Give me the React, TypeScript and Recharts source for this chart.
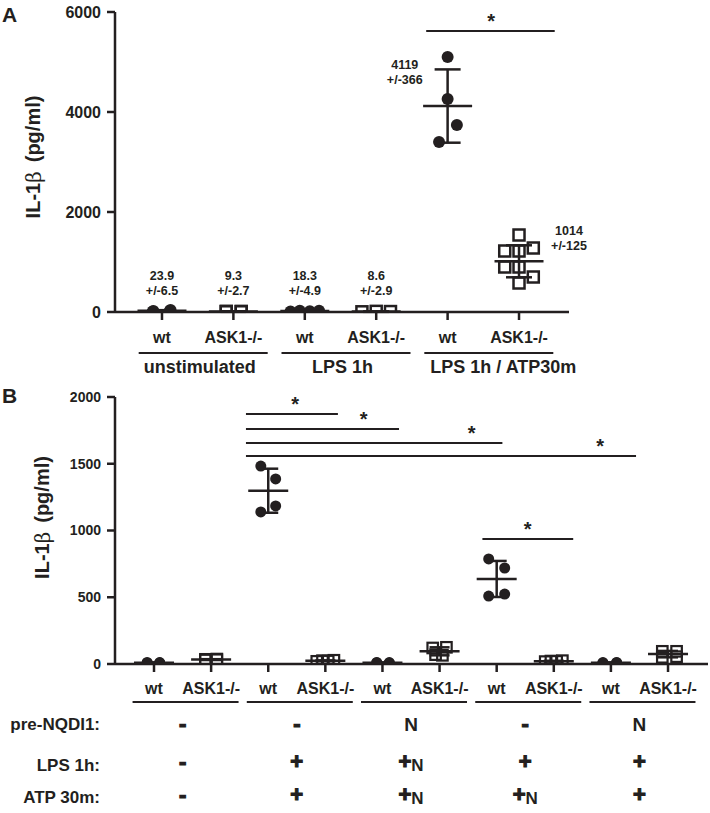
import React from 'react';
import { ScatterChart, Scatter, XAxis, YAxis, ErrorBar, ReferenceLine, ReferenceDot } from 'recharts';

const INK = '#231f20';
const FONT = '"Liberation Sans", Arial, Helvetica, sans-serif';

// ---- Panel A ----
const A_TICKS = ['wt', 'ASK1-/-', 'wt', 'ASK1-/-', 'wt', 'ASK1-/-'];
const A_GROUPS = ['unstimulated', 'LPS 1h', 'LPS 1h / ATP30m'];
const A_GROUP_AT = [0.5, 2.5, 4.5];
const A_Y_TICKS = [0, 2000, 4000, 6000];
const A_VALUES = [
  [12, 20, 26, 38],
  [5, 14, 7, 11],
  [10, 25, 14, 24],
  [4, 13, 9],
  [5100, 4260, 3740, 3400],
  [1540, 1220, 1220, 1280, 900, 900, 700, 580],
];
// horizontal scatter of the points inside each column (category units)
const A_SPREAD = [
  [-0.13, -0.12, 0.11, 0.12],
  [-0.1, -0.1, 0.11, 0.11],
  [-0.2, -0.07, 0.07, 0.2],
  [-0.2, 0, 0.2],
  [0, 0, 0.13, -0.12],
  [0, -0.2, 0, 0.2, -0.2, 0, 0.2, 0],
];
const A_MEAN = [23.9, 9.3, 18.3, 8.6, 4119, 1014];
const A_SD = [13, 5.4, 9.8, 5, 733, 320];
const A_NOTE_MEAN = ['23.9', '9.3', '18.3', '8.6', '4119', '1014'];
const A_NOTE_ERR = ['+/-6.5', '+/-2.7', '+/-4.9', '+/-2.9', '+/-366', '+/-125'];
const A_NOTE_X = [0, 1, 2, 3, 3.4, 5.7];
const A_NOTE_Y = [640, 640, 640, 640, 4860, 1540];
const A_SIG = [{ x1: 3.7, x2: 5.5, y: 5620, star: 4.61 }];

// ---- Panel B ----
const B_TICKS = ['wt', 'ASK1-/-', 'wt', 'ASK1-/-', 'wt', 'ASK1-/-', 'wt', 'ASK1-/-', 'wt', 'ASK1-/-'];
const B_GROUP_AT = [0.5, 2.5, 4.5, 6.5, 8.5];
const B_Y_TICKS = [0, 500, 1000, 1500, 2000];
const B_VALUES = [
  [8, 12, 9, 11],
  [30, 35, 32, 37],
  [1483, 1386, 1184, 1139],
  [20, 25, 22, 28],
  [9, 12, 8, 11],
  [120, 125, 70, 65],
  [787, 719, 509, 524],
  [18, 22, 20, 25],
  [8, 11, 9, 12],
  [95, 95, 50, 55],
];
const B_SPREAD = [
  [-0.12, -0.12, 0.1, 0.1],
  [-0.1, -0.1, 0.1, 0.1],
  [-0.13, 0.13, 0.13, -0.13],
  [-0.15, -0.05, 0.05, 0.15],
  [-0.1, -0.1, 0.12, 0.12],
  [-0.12, 0.12, -0.07, 0.05],
  [-0.14, 0.14, -0.14, 0.14],
  [-0.15, -0.05, 0.05, 0.15],
  [-0.14, -0.14, 0.1, 0.1],
  [-0.1, 0.15, -0.1, 0.15],
];
const B_MEAN = [10, 33, 1298, 24, 10, 95, 637, 21, 10, 74];
const B_SD = [2, 3, 165, 3, 2, 30, 135, 3, 2, 24];
const B_SIG = [
  { x1: 1.61, x2: 3.22, y: 1873, star: 2.47 },
  { x1: 1.61, x2: 4.29, y: 1760, star: 3.67 },
  { x1: 1.61, x2: 6.1, y: 1655, star: 5.56 },
  { x1: 1.61, x2: 8.44, y: 1558, star: 7.81 },
  { x1: 5.75, x2: 7.34, y: 936, star: 6.54 },
];
const ROW_LABELS = ['pre-NQDI1:', 'LPS 1h:', 'ATP 30m:'];
const ROW_PRE = ['-', '-', 'N', '-', 'N'];
const ROW_LPS = ['-', '+', '+N', '+', '+'];
const ROW_ATP = ['-', '+', '+N', '+N', '+'];

const points = (values: number[][], spread: number[][], wt: boolean) =>
  values.flatMap((vals, g) =>
    (g % 2 === 0) === wt ? vals.map((v, i) => ({ x: g + spread[g][i], y: v })) : []
  );
const means = (mean: number[], sd: number[]) => mean.map((m, g) => ({ x: g, y: m, sd: sd[g] }));
const anchors = (at: number[]) => at.map((x) => ({ x, y: 0 }));

const dot = (r: number) => (p: any) => <circle cx={p.cx} cy={p.cy} r={r} fill={INK} />;
const box = (s: number, w: number) => (p: any) => (
  <rect x={p.cx - s / 2} y={p.cy - s / 2} width={s} height={s} fill="none" stroke={INK} strokeWidth={w} />
);
const meanLine = (half: number, w: number) => (p: any) => (
  <line x1={p.cx - half} x2={p.cx + half} y1={p.cy} y2={p.cy} stroke={INK} strokeWidth={w} />
);
const nothing = () => <g />;
const star = (p: any) => (
  <text x={p.cx} y={p.cy - 3} textAnchor="middle" fontSize={20} fontWeight="bold" fill={INK}>*</text>
);

const AxisTitle = ({ viewBox, letter, dx, dy, letterDy }: any) => {
  const { x, y, height } = viewBox;
  const cx = x + dx;
  const cy = y + height / 2 + dy;
  return (
    <g>
      <text x={x + 2} y={y + letterDy} fontSize={21} fontWeight="bold" fill={INK}>{letter}</text>
      <text x={cx} y={cy} transform={`rotate(-90 ${cx} ${cy})`} textAnchor="middle" dominantBaseline="middle"
        fontSize={20} fontWeight="bold" fill={INK}>
        IL-1<tspan fontFamily='"DejaVu Serif", serif' fontWeight="normal">β</tspan>
        <tspan dx={9}>(pg/ml)</tspan>
      </text>
    </g>
  );
};

const GroupTickA = (props: any) => {
  const { x, y, index } = props;
  const label = A_GROUPS[index];
  const long = label.length > 13;
  return (
    <g>
      <line x1={x - 59} x2={x + 70} y1={y + 11} y2={y + 11} stroke={INK} strokeWidth={1.8} />
      <text x={long ? x - 53 : x + 2} y={y + 31} textAnchor={long ? 'start' : 'middle'}
        fontSize={18} fontWeight="bold" fill={INK}>{label}</text>
    </g>
  );
};

const Cell = ({ x, y, sym }: any) => {
  if (sym === '+N') {
    return (
      <text x={x} y={y} textAnchor="middle" fontWeight="bold" fill={INK}>
        <tspan fontSize={22} stroke={INK} strokeWidth={1.2}>+</tspan>
        <tspan fontSize={17} dy={2}>N</tspan>
      </text>
    );
  }
  const sign = sym !== 'N';
  return (
    <text x={x} y={y} textAnchor="middle" fontSize={sign ? 22 : 19} fontWeight="bold" fill={INK}
      stroke={sign ? INK : 'none'} strokeWidth={1.2}>{sym}</text>
  );
};

const GroupTickB = (props: any) => {
  const { x, y, index } = props;
  return (
    <g>
      <line x1={x - 50} x2={x + 56} y1={y + 6} y2={y + 6} stroke={INK} strokeWidth={1.8} />
      <Cell x={x} y={y + 35} sym={ROW_PRE[index]} />
      <Cell x={x} y={y + 73} sym={ROW_LPS[index]} />
      <Cell x={x} y={y + 106} sym={ROW_ATP[index]} />
      {index === 0 &&
        ROW_LABELS.map((l, i) => (
          <text key={l} x={100} y={y + [34, 75, 107][i]} textAnchor="end" fontSize={17} fontWeight="bold" fill={INK}>
            {l}
          </text>
        ))}
    </g>
  );
};

const tickStyle = (size: number) => ({ fill: INK, fontSize: size, fontWeight: 'bold', fontFamily: FONT });

export default function App() {
  const aDomain: [number, number] = [-0.658, 5.7];
  const bDomain: [number, number] = [-0.683, 9.7];
  return (
    <div style={{ width: 710, fontFamily: FONT, background: '#fff' }}>
      <style>{'body{margin:0}'}</style>
      <ScatterChart width={710} height={380} margin={{ top: 12, right: 141, bottom: 0, left: 0 }}>
        <XAxis type="number" dataKey="x" domain={aDomain} allowDataOverflow ticks={[0, 1, 2, 3, 4, 5]} interval={0}
          tickFormatter={(v: number) => A_TICKS[v]} height={30} tickSize={8} tickMargin={12}
          stroke={INK} strokeWidth={2.5} tick={tickStyle(16)} />
        <XAxis xAxisId="g" type="number" dataKey="x" domain={aDomain} allowDataOverflow ticks={A_GROUP_AT} interval={0}
          height={38} axisLine={false} tickLine={false} tickSize={0} tickMargin={0} tick={GroupTickA} />
        <YAxis type="number" dataKey="y" domain={[0, 6000]} allowDataOverflow ticks={A_Y_TICKS} interval={0}
          width={115} tickSize={8} tickMargin={6} stroke={INK} strokeWidth={2.5} tick={tickStyle(16)}
          label={(p: any) => <AxisTitle viewBox={p.viewBox} letter="A" dx={35} dy={-5} letterDy={10} />} />
        <Scatter xAxisId="g" data={anchors(A_GROUP_AT)} shape={nothing} isAnimationActive={false} />
        <Scatter data={points(A_VALUES, A_SPREAD, true)} shape={dot(6)} isAnimationActive={false} />
        <Scatter data={points(A_VALUES, A_SPREAD, false)} shape={box(11, 2.5)} isAnimationActive={false} />
        <Scatter data={means(A_MEAN, A_SD)} shape={meanLine(24.5, 2.5)} isAnimationActive={false}>
          <ErrorBar dataKey="sd" direction="y" width={13} stroke={INK} strokeWidth={2.5} />
        </Scatter>
        {A_SIG.map((s, i) => (
          <ReferenceLine key={`al${i}`} segment={[{ x: s.x1, y: s.y }, { x: s.x2, y: s.y }]} stroke={INK} strokeWidth={2} />
        ))}
        {A_SIG.map((s, i) => (
          <ReferenceDot key={`as${i}`} x={s.star} y={s.y} r={0} ifOverflow="visible" shape={star} />
        ))}
        {A_NOTE_X.map((x, i) => (
          <ReferenceDot key={`n${i}`} x={x} y={A_NOTE_Y[i]} r={0} ifOverflow="visible"
            shape={(p: any) => (
              <text x={p.cx} y={p.cy} textAnchor="middle" fontSize={12.5} fontWeight="bold" fill={INK}>
                <tspan x={p.cx}>{A_NOTE_MEAN[i]}</tspan>
                <tspan x={p.cx} dy={14.5}>{A_NOTE_ERR[i]}</tspan>
              </text>
            )} />
        ))}
      </ScatterChart>

      <ScatterChart width={710} height={433} margin={{ top: 17, right: 2, bottom: 0, left: 0 }}>
        <XAxis type="number" dataKey="x" domain={bDomain} allowDataOverflow ticks={[0, 1, 2, 3, 4, 5, 6, 7, 8, 9]}
          interval={0} tickFormatter={(v: number) => B_TICKS[v]} height={32} tickSize={8} tickMargin={11}
          stroke={INK} strokeWidth={2.5} tick={tickStyle(16)} />
        <XAxis xAxisId="g" type="number" dataKey="x" domain={bDomain} allowDataOverflow ticks={B_GROUP_AT}
          interval={0} height={117} axisLine={false} tickLine={false} tickSize={0} tickMargin={0} tick={GroupTickB} />
        <YAxis type="number" dataKey="y" domain={[0, 2000]} allowDataOverflow ticks={B_Y_TICKS} interval={0}
          width={115} tickSize={8} tickMargin={6} stroke={INK} strokeWidth={2.5} tick={tickStyle(14)}
          label={(p: any) => <AxisTitle viewBox={p.viewBox} letter="B" dx={44} dy={-13} letterDy={6} />} />
        <Scatter xAxisId="g" data={anchors(B_GROUP_AT)} shape={nothing} isAnimationActive={false} />
        <Scatter data={points(B_VALUES, B_SPREAD, true)} shape={dot(5.5)} isAnimationActive={false} />
        <Scatter data={points(B_VALUES, B_SPREAD, false)} shape={box(10.5, 2.2)} isAnimationActive={false} />
        <Scatter data={means(B_MEAN, B_SD)} shape={meanLine(20, 2.5)} isAnimationActive={false}>
          <ErrorBar dataKey="sd" direction="y" width={10} stroke={INK} strokeWidth={2.5} />
        </Scatter>
        {B_SIG.map((s, i) => (
          <ReferenceLine key={`bl${i}`} segment={[{ x: s.x1, y: s.y }, { x: s.x2, y: s.y }]} stroke={INK} strokeWidth={2} />
        ))}
        {B_SIG.map((s, i) => (
          <ReferenceDot key={`bs${i}`} x={s.star} y={s.y} r={0} ifOverflow="visible" shape={star} />
        ))}
      </ScatterChart>
    </div>
  );
}
